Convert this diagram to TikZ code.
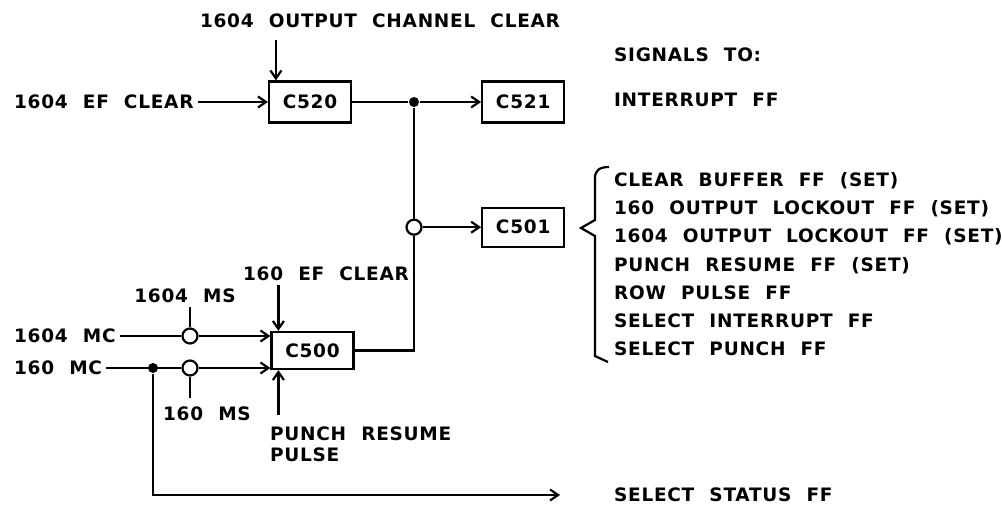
\documentclass[tikz,border=0pt]{standalone}
\usepackage{fontspec}
\setmainfont{DejaVu Sans Bold}[LetterSpace=4, WordSpace=2.1]
\usetikzlibrary{shapes, arrows.meta, positioning}

\begin{document}
\begin{tikzpicture}[x=1pt, y=-1pt,
    line width=2.2pt,
    font=\fontsize{18.5}{21}\selectfont,
    arr/.style={-{Straight Barb[length=8pt,width=11pt]}},
    box/.style={draw, minimum width=82pt, minimum height=41pt, inner sep=0},
    ring/.style={draw, circle, fill=white, minimum size=15pt, inner sep=0},
    dot/.style={circle, fill, minimum size=10pt, inner sep=0},
    lbl/.style={inner sep=3pt}]

\useasboundingbox (0,0) rectangle (1002,506);

\node[box] (c520) at (310,102) {C520};

\node[box,
    right = 129pt of c520] (c521) {C521};

\node[box,
    below = 83pt of c521,
    minimum height=39pt] (c501) {C501};

\node[box,
    minimum height=37pt] (c500) at (312.5,350.5) {C500};

\node[dot] (fork) at (414,102) {};
\node[ring] (or501) at (fork |- c501) {};
\node[ring] (ms1) at (190,336) {};
\node[ring] (ms2) at (190,368) {};
\node[dot] (split) at (153,368) {};

% input labels
\node[lbl] (occ1604) at (380,21) {1604 OUTPUT CHANNEL CLEAR};
\node[lbl, anchor=west] (ef1604) at (10,102) {1604 EF CLEAR};
\node[lbl] (ef160) at (326,274) {160 EF CLEAR};
\node[lbl] (ms1604) at (185,296) {1604 MS};
\node[lbl, anchor=west] (ms160) at (159,414) {160 MS};
\node[lbl, anchor=west] (mc1604) at (10,336) {1604 MC};
\node[lbl, anchor=west] (mc160) at (10,368) {160 MC};
\node[lbl,
    anchor=north west,
    align=left] (punch) at (266,423) {PUNCH RESUME\\PULSE};

% signals to
\node[lbl, anchor=west] (sigto) at (610,55) {SIGNALS TO:};
\node[lbl, anchor=west] (intff) at (610,100) {INTERRUPT FF};
\node[lbl,
    anchor=north west,
    align=left,
    font=\fontsize{18.5}{28.3}\selectfont] (c501out) at (610,168) {CLEAR BUFFER FF (SET)\\
                        160 OUTPUT LOCKOUT FF (SET)\\
                        1604 OUTPUT LOCKOUT FF (SET)\\
                        PUNCH RESUME FF (SET)\\
                        ROW PULSE FF\\
                        SELECT INTERRUPT FF\\
                        SELECT PUNCH FF};
\node[lbl, anchor=west] (status) at (610,495) {SELECT STATUS FF};

\coordinate (occ_in) at ([xshift=8pt]c520.north west);
\coordinate (ef160_in) at ([xshift=8pt]c500.north west);
\coordinate (pr_in) at ([xshift=8pt]c500.south west);
\coordinate (status_in) at ([xshift=-50pt]status.west);

\draw[arr] ([yshift=40pt]occ_in) -- (occ_in);
\draw[arr] (ef1604.east) -- (c520.west);
\draw (c520) -- (fork)
    (fork) -- (or501)
    (c500.east) -| (or501);
\draw[arr] (fork) -- (fork -| c521.west);
\draw[arr] (or501) -- (or501 -| c501.west);
\draw[arr] (ef160_in |- ef160.south) -- (ef160_in);
\draw[arr] ([yshift=-45pt]pr_in) -- (pr_in);
\draw (ms1 |- ms1604.south) -- (ms1)
    (ms2) -- ([yshift=-21pt]ms2.south);
\draw (mc1604.east) -- (ms1);
\draw[arr] (ms1) -- (ms1 -| c500.west);
\draw (mc160.east) -- (ms2);
\draw[arr] (ms2) -- (ms2 -| c500.west);
\draw[arr] (split) |- (status_in);

% brace
\draw (609,167) .. controls (600,167) and (595,170) .. (595,178)
    -- (595,220) -- (581,228) -- (595,236) -- (595,356) -- (608,362);

\end{tikzpicture}
\end{document}
